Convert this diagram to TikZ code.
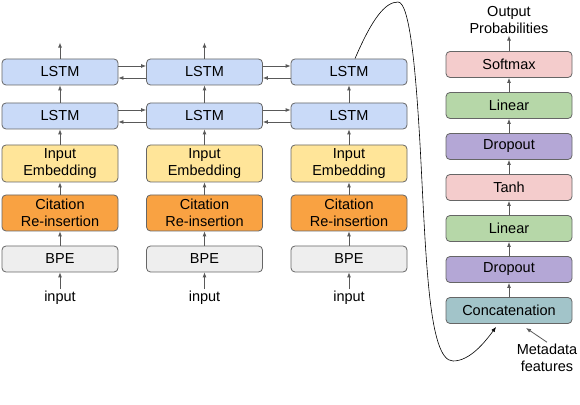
\documentclass[tikz,border=0pt]{standalone}
\usepackage{fontspec}
\setmainfont{Liberation Sans}
\usetikzlibrary{arrows.meta}
\definecolor{lstmblue}{HTML}{C9DAF8}
\definecolor{embyellow}{HTML}{FFE599}
\definecolor{citeorange}{HTML}{F9A242}
\definecolor{bpegray}{HTML}{EEEEEE}
\definecolor{softred}{HTML}{F4CCCC}
\definecolor{lingreen}{HTML}{B6D7A8}
\definecolor{droppurple}{HTML}{B4A7D6}
\definecolor{catcyan}{HTML}{A2C4C9}
\begin{document}
\begin{tikzpicture}[x=1pt, y=1pt, node distance={144.5pt}, >={Latex[length=5pt,width=4pt]},
	every node/.style={font=\fontsize{14.5}{16.5}\selectfont, align=center},
	layer/.style={draw=black!60, line width=0.8pt, rounded corners=4pt, minimum width=116pt, minimum height=26pt, inner sep=0pt},
	lstm/.style={layer, fill=lstmblue},
	embed/.style={layer, fill=embyellow, minimum height=37pt},
	cite/.style={layer, fill=citeorange, minimum height=36pt},
	bpe/.style={layer, fill=bpegray},
	softbox/.style={layer, minimum width=126pt, fill=softred},
	linbox/.style={layer, minimum width=126pt, fill=lingreen},
	dropbox/.style={layer, minimum width=126pt, fill=droppurple},
	catbox/.style={layer, minimum width=126pt, fill=catcyan},
	letter/.style={inner sep=2pt},
	link/.style={->, draw=black!65, line width=0.8pt}]
	
	\useasboundingbox (0,0) rectangle (580,404);
	
	\node[bpe] (1) at (60,145) {BPE};
	\node[cite, node distance=46pt] (2) [above of=1] {Citation\\Re-insertion};
	\node[embed, node distance=49.5pt] (3) [above of=2] {Input\\Embedding};
	\node[lstm, node distance=47.5pt] (4) [above of=3] {LSTM};
	\node[lstm, node distance=44pt] (5) [above of=4] {LSTM};
	
	\node[bpe] (6) [right of=1] {BPE};
	\node[cite] (7) [right of=2] {Citation\\Re-insertion};
	\node[embed] (8) [right of=3] {Input\\Embedding};
	\node[lstm] (9) [right of=4] {LSTM};
	\node[lstm] (10) [right of=5] {LSTM};
	
	\node[bpe] (11) [right of=6] {BPE};
	\node[cite] (12) [right of=7] {Citation\\Re-insertion};
	\node[embed] (13) [right of=8] {Input\\Embedding};
	\node[lstm] (14) [right of=9] {LSTM};
	\node[lstm] (15) [right of=10] {LSTM};
	
	\node[catbox] (16) at (509,93.5) {Concatenation};
	\node[dropbox, node distance=41pt] (17) [above of=16] {Dropout};
	\node[linbox, node distance=41pt] (18) [above of=17] {Linear};
	\node[softbox, node distance=41pt] (19) [above of=18] {Tanh};
	\node[dropbox, node distance=41pt] (20) [above of=19] {Dropout};
	\node[linbox, node distance=41pt] (21) [above of=20] {Linear};
	\node[softbox, node distance=41pt] (22) [above of=21] {Softmax};
	
	\node[letter, node distance=39pt] (i1) [below of=1] {input};
	\node[letter, node distance=39pt] (i2) [below of=6] {input};
	\node[letter, node distance=39pt] (i3) [below of=11] {input};
	\node[letter, node distance=44.5pt] (out) [above of=22] {Output\\Probabilities};
	\node[letter] (meta) at (547,46) {Metadata\\features};
	
	\coordinate (t1) at ([yshift=16pt]5.north);
	\coordinate (t2) at ([yshift=16pt]10.north);
	\coordinate (t3) at ([yshift=16pt]15.north);
	\coordinate (c) at (496,77);
	\coordinate (m) at (526,76);
	
	\draw[link] (i1) -- (1);
	\draw[link] (1) -- (2);
	\draw[link] (2) -- (3);
	\draw[link] (3) -- (4);
	\draw[link] (4) -- (5);
	\draw[link] (5) -- (t1);
	
	\draw[link] (i2) -- (6);
	\draw[link] (6) -- (7);
	\draw[link] (7) -- (8);
	\draw[link] (8) -- (9);
	\draw[link] (9) -- (10);
	\draw[link] (10) -- (t2);
	
	\draw[link] (i3) -- (11);
	\draw[link] (11) -- (12);
	\draw[link] (12) -- (13);
	\draw[link] (13) -- (14);
	\draw[link] (14) -- (15);
	
	\draw[link] ([yshift=6pt]4.east) -- ([yshift=6pt]9.west);
	\draw[link] ([yshift=-6pt]9.west) -- ([yshift=-6pt]4.east);
	\draw[link] ([yshift=6pt]5.east) -- ([yshift=6pt]10.west);
	\draw[link] ([yshift=-6pt]10.west) -- ([yshift=-6pt]5.east);
	\draw[link] ([yshift=6pt]9.east) -- ([yshift=6pt]14.west);
	\draw[link] ([yshift=-6pt]14.west) -- ([yshift=-6pt]9.east);
	\draw[link] ([yshift=6pt]10.east) -- ([yshift=6pt]15.west);
	\draw[link] ([yshift=-6pt]15.west) -- ([yshift=-6pt]10.east);
	
	\draw[link] (16) -- (17);
	\draw[link] (17) -- (18);
	\draw[link] (18) -- (19);
	\draw[link] (19) -- (20);
	\draw[link] (20) -- (21);
	\draw[link] (21) -- (22);
	\draw[link] (22) -- (out);
	\draw[link] (meta.north) -- (m);
	
	\draw[->, line width=0.6pt] ([xshift=6pt]15.north) .. controls (372,385) and (385,402) .. (398,402)
		.. controls (410,402) and (416,330) .. (420,260)
		.. controls (426,150) and (428,43) .. (453,43)
		.. controls (470,43) and (485,62) .. (c);
\end{tikzpicture}
\end{document}
